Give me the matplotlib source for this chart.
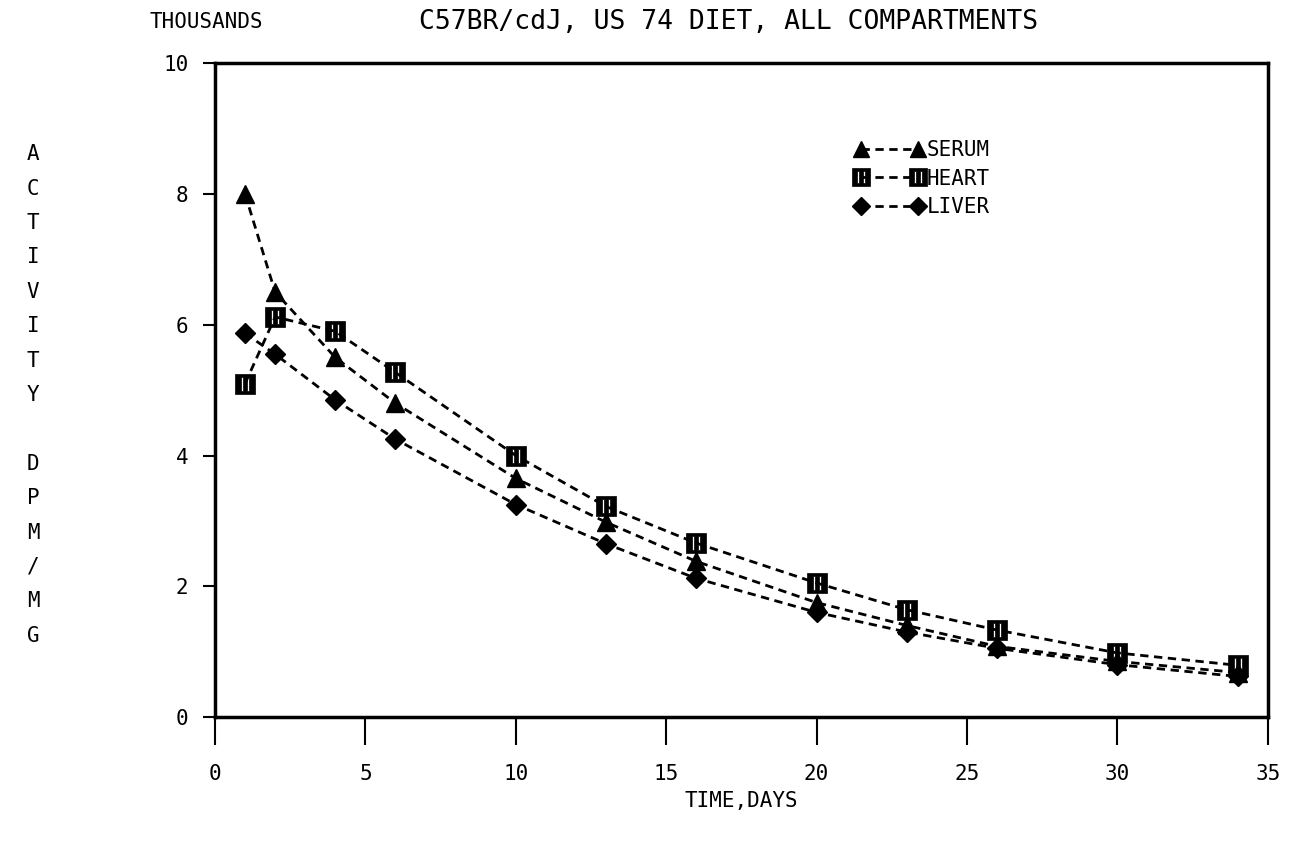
import matplotlib
matplotlib.use("Agg")
import matplotlib.pyplot as plt
from matplotlib.path import Path
import numpy as np

days = [1, 2, 4, 6, 10, 13, 16, 20, 23, 26, 30, 34]
serum = [8.0, 6.5, 5.5, 4.8, 3.65, 2.98, 2.38, 1.75, 1.40, 1.08, 0.85, 0.68]
heart = [5.1, 6.12, 5.9, 5.27, 4.0, 3.22, 2.66, 2.05, 1.64, 1.33, 0.98, 0.79]
liver = [5.87, 5.55, 4.85, 4.25, 3.25, 2.65, 2.12, 1.60, 1.30, 1.05, 0.80, 0.62]
series_names = ["SERUM", "HEART", "LIVER"]
xticks = [0, 5, 10, 15, 20, 25, 30, 35]
yticks = [0, 2, 4, 6, 8, 10]

plt.rcParams['font.family'] = ['DejaVu Sans Mono']

# custom marker: square with two white vertical slits
def rect(x0, y0, x1, y1, ccw=True):
    pts = [(x0, y0), (x1, y0), (x1, y1), (x0, y1), (x0, y0)]
    if not ccw:
        pts = pts[::-1]
    return pts

verts = rect(-1, -1, 1, 1) + rect(-0.45, -0.7, -0.2, 0.7, False) + rect(0.2, -0.7, 0.45, 0.7, False)
codes = []
for _ in range(3):
    codes += [Path.MOVETO, Path.LINETO, Path.LINETO, Path.LINETO, Path.CLOSEPOLY]
heart_marker = Path(verts, codes)

fig = plt.figure(figsize=(12.95, 8.44), dpi=100)
ax = fig.add_axes([0.166, 0.1505, 0.813, 0.7745])

ls = (0, (3, 2))
ax.plot(days, serum, color='black', lw=2, linestyle=ls, marker='^', markersize=13,
        markerfacecolor='black', markeredgecolor='black', label=series_names[0])
ax.plot(days, heart, color='black', lw=2, linestyle=ls, marker=heart_marker, markersize=14,
        markerfacecolor='black', markeredgecolor='black', markeredgewidth=0.5, label=series_names[1])
ax.plot(days, liver, color='black', lw=2, linestyle=ls, marker='D', markersize=10,
        markerfacecolor='black', markeredgecolor='black', label=series_names[2])

ax.set_xlim(0, 35)
ax.set_ylim(0, 10)
ax.set_xticks(xticks)
ax.set_yticks(yticks)
ax.set_xticklabels([str(t) for t in xticks], fontsize=15)
ax.set_yticklabels([str(t) for t in yticks], fontsize=15)
ax.tick_params(axis='x', direction='out', length=20, width=1.5, pad=14)
ax.tick_params(axis='y', direction='out', length=9, width=1.5, pad=10)
for s in ax.spines.values():
    s.set_linewidth(2.5)

leg = ax.legend(loc='upper left', bbox_to_anchor=(0.6, 0.895), frameon=False, numpoints=2,
                handlelength=3.3, handletextpad=0.15, labelspacing=0.4, fontsize=15,
                markerscale=0.9, borderaxespad=0)

fig.text(150 / 1295, 1 - 22 / 844, "THOUSANDS", fontsize=15, ha='left', va='center')
fig.text(729 / 1295, 1 - 22 / 844, "C57BR/cdJ, US 74 DIET, ALL COMPARTMENTS", fontsize=19,
         ha='center', va='center')
fig.text(741 / 1295, 1 - 801 / 844, "TIME,DAYS", fontsize=15, ha='center', va='center')
fig.text(33 / 1295, 1 - 395 / 844, "\n".join("ACTIVITY DPM/MG"), fontsize=15,
         ha='center', va='center', linespacing=1.9)

fig.savefig("out.png", dpi=100, facecolor='white')
